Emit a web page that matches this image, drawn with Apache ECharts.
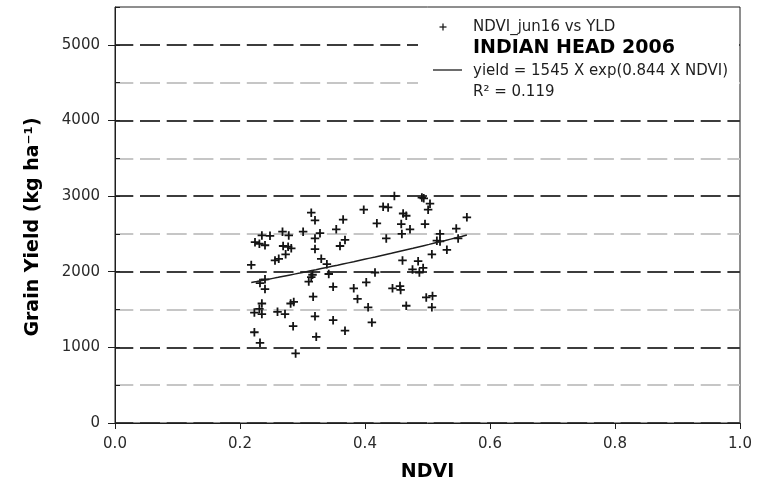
<!DOCTYPE html>
<html>
<head>
<meta charset="utf-8">
<script src="https://cdn.jsdelivr.net/npm/echarts@6/dist/echarts.min.js"></script>
<style>
  html, body { margin: 0; padding: 0; background: #ffffff; }
  #chart { width: 761px; height: 487px; }
</style>
</head>
<body>
<div id="chart"></div>
<script>
// NDVI (June 16) against grain yield, Indian Head 2006
const ndvi = [
  0.314, 0.320, 0.365, 0.354, 0.301, 0.268, 0.278, 0.235, 0.248, 0.224,
  0.231, 0.240, 0.269, 0.277, 0.282, 0.320, 0.328, 0.368, 0.360, 0.320,
  0.273, 0.256, 0.262, 0.330, 0.339, 0.218, 0.316, 0.314, 0.310, 0.342,
  0.240, 0.232, 0.240, 0.349, 0.382, 0.317, 0.388, 0.402, 0.405, 0.411,
  0.368, 0.349, 0.322, 0.320, 0.285, 0.272, 0.260, 0.281, 0.286, 0.235,
  0.231, 0.235, 0.223, 0.223, 0.232, 0.289, 0.398, 0.419, 0.434, 0.429,
  0.437, 0.447, 0.491, 0.494, 0.504, 0.501, 0.461, 0.466, 0.458, 0.496,
  0.459, 0.472, 0.520, 0.515, 0.520, 0.546, 0.549, 0.563, 0.531, 0.507,
  0.460, 0.485, 0.476, 0.487, 0.493, 0.416, 0.444, 0.456, 0.457, 0.498,
  0.508, 0.466, 0.507
];
const grainYield = [
  2780, 2680, 2690, 2560, 2530, 2530, 2480, 2480, 2475, 2390,
  2370, 2350, 2340, 2330, 2310, 2440, 2510, 2420, 2340, 2300,
  2230, 2150, 2170, 2170, 2100, 2090, 1960, 1930, 1870, 1970,
  1900, 1850, 1770, 1800, 1780, 1670, 1640, 1860, 1530, 1330,
  1220, 1360, 1140, 1410, 1280, 1440, 1470, 1580, 1600, 1580,
  1510, 1440, 1460, 1200, 1060, 920, 2820, 2640, 2440, 2860,
  2850, 3000, 2980, 2970, 2900, 2820, 2770, 2740, 2630, 2630,
  2500, 2560, 2500, 2410, 2400, 2570, 2440, 2720, 2290, 2230,
  2150, 2140, 2030, 1990, 2050, 1990, 1780, 1810, 1760, 1660,
  1680, 1550, 1530
];

// Exponential fit: yield = a * exp(b * NDVI)
const fitCoef = [1545, 0.844];
const rSquared = '0.119';

const yTickValues = [0, 1000, 2000, 3000, 4000, 5000];
const xTickValues = [0.0, 0.2, 0.4, 0.6, 0.8, 1.0];

const seriesLabel = 'NDVI_jun16 vs YLD';
const siteTitle = 'INDIAN HEAD 2006';
const yTitle = 'Grain Yield (kg ha\u207B\u00B9)';
const xTitle = 'NDVI';

const FONT = '"DejaVu Sans", "Liberation Sans", Arial, sans-serif';
const INK = '#1e1e1e';

const points = ndvi.map((x, i) => [x, grainYield[i]]);

// fitted curve over the observed NDVI range
const xLo = Math.min(...ndvi), xHi = Math.max(...ndvi);
const fitLine = [];
for (let k = 0; k <= 40; k++) {
  const x = xLo + (xHi - xLo) * k / 40;
  fitLine.push([x, fitCoef[0] * Math.exp(fitCoef[1] * x)]);
}

// plus-shaped marker
const plusSymbol = 'path://M3.95,0H6.05V3.95H10V6.05H6.05V10H3.95V6.05H0V3.95H3.95Z';

const chart = echarts.init(document.getElementById('chart'), null, { renderer: 'canvas' });

chart.setOption({
  animation: false,
  backgroundColor: '#ffffff',
  grid: {
    left: 115, right: 21, top: 7, bottom: 64,
    show: true, borderColor: INK, borderWidth: 1, backgroundColor: 'transparent'
  },
  xAxis: {
    type: 'value', min: 0, max: 1, interval: 0.2,
    axisLine: { show: true, lineStyle: { color: INK, width: 1 } },
    axisTick: { show: true, inside: false, length: 6, lineStyle: { color: INK, width: 1 } },
    axisLabel: {
      customValues: xTickValues,
      formatter: v => Number(v).toFixed(1),
      fontFamily: FONT, fontSize: 15, color: '#2a2a2a', margin: 14
    },
    splitLine: { show: false },
    name: xTitle, nameLocation: 'middle', nameGap: 40,
    nameTextStyle: { fontFamily: FONT, fontSize: 19, fontWeight: 'bold', color: '#000' }
  },
  yAxis: [
    {
      // frame line, inner ticks every 500 and the dashed reference lines
      type: 'value', min: 0, max: 5500, interval: 500, position: 'left',
      axisLine: { show: true, lineStyle: { color: INK, width: 1 } },
      axisTick: { show: true, inside: true, length: 5, lineStyle: { color: INK, width: 1 } },
      axisLabel: { show: false },
      splitLine: {
        show: true, showMinLine: true, showMaxLine: false,
        lineStyle: { color: ['#3c3c3c', '#c6c6c6'], width: 1.8, type: [20, 6.7], dashOffset: 1.7 }
      }
    },
    {
      // outer ticks and labels at each 1000
      type: 'value', min: 0, max: 5500, interval: 1000, position: 'left',
      axisLine: { show: false },
      axisTick: { show: true, inside: false, length: 7, customValues: yTickValues,
        lineStyle: { color: INK, width: 1 } },
      axisLabel: {
        customValues: yTickValues, formatter: v => String(v),
        fontFamily: FONT, fontSize: 15, color: '#2a2a2a', margin: 15
      },
      splitLine: { show: false }
    }
  ],
  series: [
    {
      type: 'scatter', name: seriesLabel, data: points,
      symbol: plusSymbol, symbolSize: 8.5, symbolKeepAspect: true,
      itemStyle: { color: '#141414', opacity: 1 }, z: 3
    },
    {
      type: 'line', name: 'fit', data: fitLine, showSymbol: false, smooth: false,
      lineStyle: { color: INK, width: 1.5 }, z: 4
    }
  ],
  graphic: [
    // blank panel behind the legend block
    { type: 'rect', shape: { x: 418, y: 8, width: 321, height: 97 },
      style: { fill: '#ffffff' }, z: 10, silent: true },
    { type: 'line', shape: { x1: 439.5, y1: 27, x2: 446.5, y2: 27 },
      style: { stroke: INK, lineWidth: 1.3 }, z: 11 },
    { type: 'line', shape: { x1: 443, y1: 23.5, x2: 443, y2: 30.5 },
      style: { stroke: INK, lineWidth: 1.3 }, z: 11 },
    { type: 'text', x: 473, y: 27, z: 11,
      style: { text: seriesLabel, font: '15px ' + FONT, fill: INK,
        textAlign: 'left', textVerticalAlign: 'middle' } },
    { type: 'text', x: 473, y: 48, z: 11,
      style: { text: siteTitle, font: 'bold 19px ' + FONT, fill: '#000',
        textAlign: 'left', textVerticalAlign: 'middle' } },
    { type: 'line', shape: { x1: 433, y1: 70, x2: 462, y2: 70 },
      style: { stroke: INK, lineWidth: 1.3 }, z: 11 },
    { type: 'text', x: 473, y: 71, z: 11,
      style: { text: 'yield = ' + fitCoef[0] + ' X exp(' + fitCoef[1] + ' X NDVI)',
        font: '15px ' + FONT, fill: INK, textAlign: 'left', textVerticalAlign: 'middle' } },
    { type: 'text', x: 473, y: 92, z: 11,
      style: { text: 'R\u00B2 = ' + rSquared, font: '15px ' + FONT, fill: INK,
        textAlign: 'left', textVerticalAlign: 'middle' } },
    // vertical axis title
    { type: 'text', x: 33, y: 227, rotation: Math.PI / 2, z: 11,
      style: { text: yTitle, font: 'bold 19px ' + FONT, fill: '#000',
        textAlign: 'center', textVerticalAlign: 'middle' } }
  ]
});
</script>
</body>
</html>
